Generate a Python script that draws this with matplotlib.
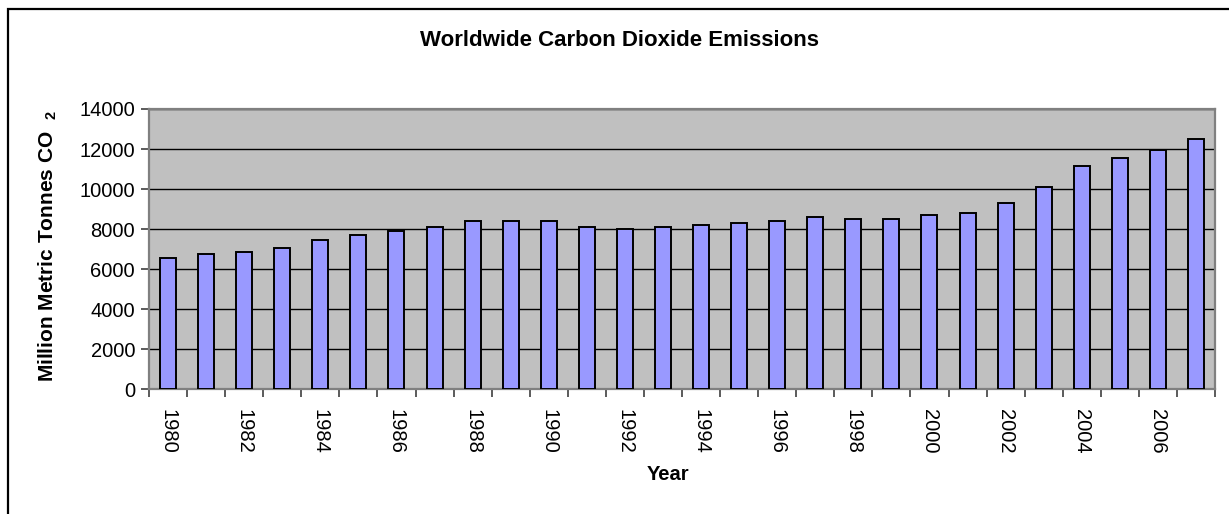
import matplotlib
matplotlib.use("Agg")
import matplotlib.pyplot as plt
from matplotlib.patches import Rectangle
import numpy as np

plt.rcParams['font.family'] = ['Liberation Sans', 'DejaVu Sans']
plt.rcParams['mathtext.fontset'] = 'custom'
plt.rcParams['mathtext.rm'] = 'Liberation Sans:bold'
plt.rcParams['mathtext.default'] = 'rm'

years = list(range(1980, 2008))
emissions = [6550, 6750, 6850, 7050, 7450, 7700, 7900, 8100, 8400, 8400,
             8400, 8100, 8000, 8100, 8200, 8300, 8400, 8600, 8500, 8500,
             8700, 8800, 9300, 10100, 11150, 11550, 11950, 12500]
y_ticks = [0, 2000, 4000, 6000, 8000, 10000, 12000, 14000]

W, H = 1229, 514
fig = plt.figure(figsize=(W / 100, H / 100), dpi=100)
fig.patch.set_facecolor('white')

# outer chart frame
fig.patches.append(Rectangle((8 / W, -0.1), 1.2, 1 - 9 / H + 0.1,
                             transform=fig.transFigure, fill=False,
                             edgecolor='black', linewidth=1.6, zorder=0))

ax = fig.add_axes([149 / W, 1 - 389.3 / H, (1215 - 149) / W, (389.3 - 109) / H])
ax.set_facecolor('#C0C0C0')

x = np.arange(len(years))
ax.bar(x, emissions, width=0.42, color='#9999FF', edgecolor='black',
       linewidth=1.4, zorder=3)

ax.set_xlim(-0.5, len(years) - 0.5)
ax.set_ylim(0, 14000)
ax.set_yticks(y_ticks)
ax.set_yticklabels([str(v) for v in y_ticks], fontsize=14.5)
ax.yaxis.grid(True, color='black', linewidth=1.0, zorder=1)
ax.set_axisbelow(True)

# year labels every second category, ticks on category boundaries
ax.set_xticks(x[::2])
ax.set_xticklabels([str(y) for y in years[::2]], rotation=-90, fontsize=14.5)
ax.set_xticks(np.arange(-0.5, len(years), 1.0), minor=True)
ax.tick_params(axis='x', which='major', length=0, pad=14)
ax.tick_params(axis='x', which='minor', length=6, width=1.2, color='#404040')
ax.tick_params(axis='y', length=6, width=1.2, color='#404040', pad=4)

for s in ax.spines.values():
    s.set_color('#808080')
    s.set_linewidth(1.6)

fig.text(619 / W, 1 - 40 / H, 'Worldwide Carbon Dioxide Emissions',
         ha='center', va='center', fontsize=16, fontweight='bold')
fig.text(668 / W, 1 - 475 / H, 'Year', ha='center', va='center',
         fontsize=14.5, fontweight='bold')
fig.text(48 / W, 1 - 246 / H, r'Million Metric Tonnes CO  $_{2}$',
         ha='center', va='center', rotation=90, fontsize=15,
         fontweight='bold')

fig.savefig('out.png', dpi=100)
